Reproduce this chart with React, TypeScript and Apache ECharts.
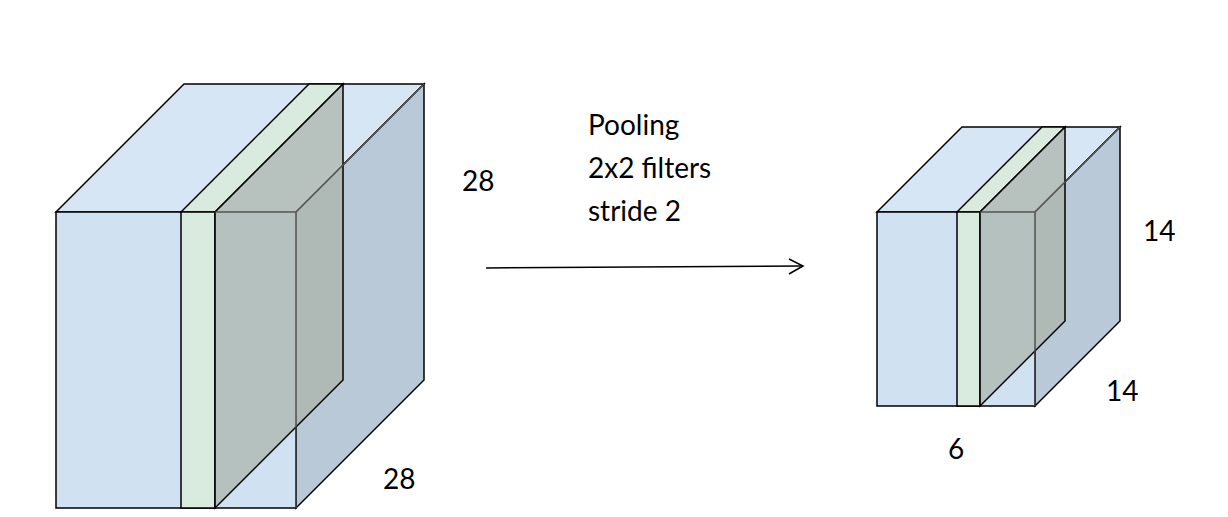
import { useEffect, useRef } from 'react';
import * as echarts from 'echarts';

// volume dimensions shown on the diagram
const inputDims = ['28', '28'];
const outputDims = ['14', '14', '6'];
const opLines = ['Pooling', '2x2 filters', 'stride 2'];

type Cube = { x: number; y: number; w: number; h: number; d: number; sx: number; sw: number };

const FRONT = '#d0e1f2';
const TOP = '#d7e6f4';
const SIDE = '#b9c9d8';
const SLAB = '#d9eadf';
const SLAB_SIDE = 'rgba(170,180,170,0.72)';
const STROKE = { stroke: '#000', lineWidth: 1.5 };

function cube(c: Cube): any[] {
  const { x, y, w, h, d, sx, sw } = c;
  const poly = (pts: number[][], fill: string) => ({
    type: 'polygon',
    shape: { points: pts },
    style: { fill, ...STROKE },
  });
  return [
    poly([[x, y], [x + d, y - d], [x + w + d, y - d], [x + w, y]], TOP),
    poly([[x + w, y], [x + w + d, y - d], [x + w + d, y + h - d], [x + w, y + h]], SIDE),
    poly([[x, y], [x + w, y], [x + w, y + h], [x, y + h]], FRONT),
    poly([[sx, y], [sx + d, y - d], [sx + sw + d, y - d], [sx + sw, y]], SLAB),
    poly([[sx, y], [sx + sw, y], [sx + sw, y + h], [sx, y + h]], SLAB),
    poly([[sx + sw, y], [sx + sw + d, y - d], [sx + sw + d, y + h - d], [sx + sw, y + h]], SLAB_SIDE),
    { type: 'line', shape: { x1: sx + sw, y1: y, x2: x + w, y2: y }, style: { stroke: '#555', lineWidth: 1.2 } },
    { type: 'line', shape: { x1: x + w, y1: y, x2: x + w, y2: y + h }, style: { stroke: '#555', lineWidth: 1.2 } },
    { type: 'line', shape: { x1: x + w, y1: y, x2: x + w + d, y2: y - d }, style: { stroke: '#555', lineWidth: 1.2 } },
  ];
}

const text = (t: string, x: number, y: number) => ({
  type: 'text',
  x,
  y,
  style: { text: t, fill: '#000', font: '28px Lato, "Open Sans", sans-serif', textVerticalAlign: 'middle' },
});

export default function App() {
  const ref = useRef<HTMLDivElement>(null);

  useEffect(() => {
    document.body.style.margin = '0';
    if (!ref.current) return;
    const chart = echarts.init(ref.current, undefined, { renderer: 'svg' });
    chart.setOption({
      animation: false,
      backgroundColor: '#fff',
      graphic: [
        ...cube({ x: 56, y: 212, w: 240, h: 296, d: 128, sx: 181, sw: 34 }),
        ...cube({ x: 877, y: 212, w: 158, h: 194, d: 85, sx: 957, sw: 23 }),
        { type: 'line', shape: { x1: 486, y1: 268, x2: 803, y2: 266 }, style: { stroke: '#000', lineWidth: 1.5 } },
        { type: 'polyline', shape: { points: [[789, 259], [803, 266], [789, 274]] }, style: { stroke: '#000', lineWidth: 1.5, fill: null } },
        ...opLines.map((t, i) => text(t, 588, 124 + i * 43)),
        text(inputDims[0], 462, 180),
        text(inputDims[1], 383, 478),
        text(outputDims[0], 1143, 230),
        text(outputDims[1], 1106, 390),
        text(outputDims[2], 948, 448),
      ],
    });
    return () => chart.dispose();
  }, []);

  return <div ref={ref} style={{ width: 1228, height: 517 }} />;
}
